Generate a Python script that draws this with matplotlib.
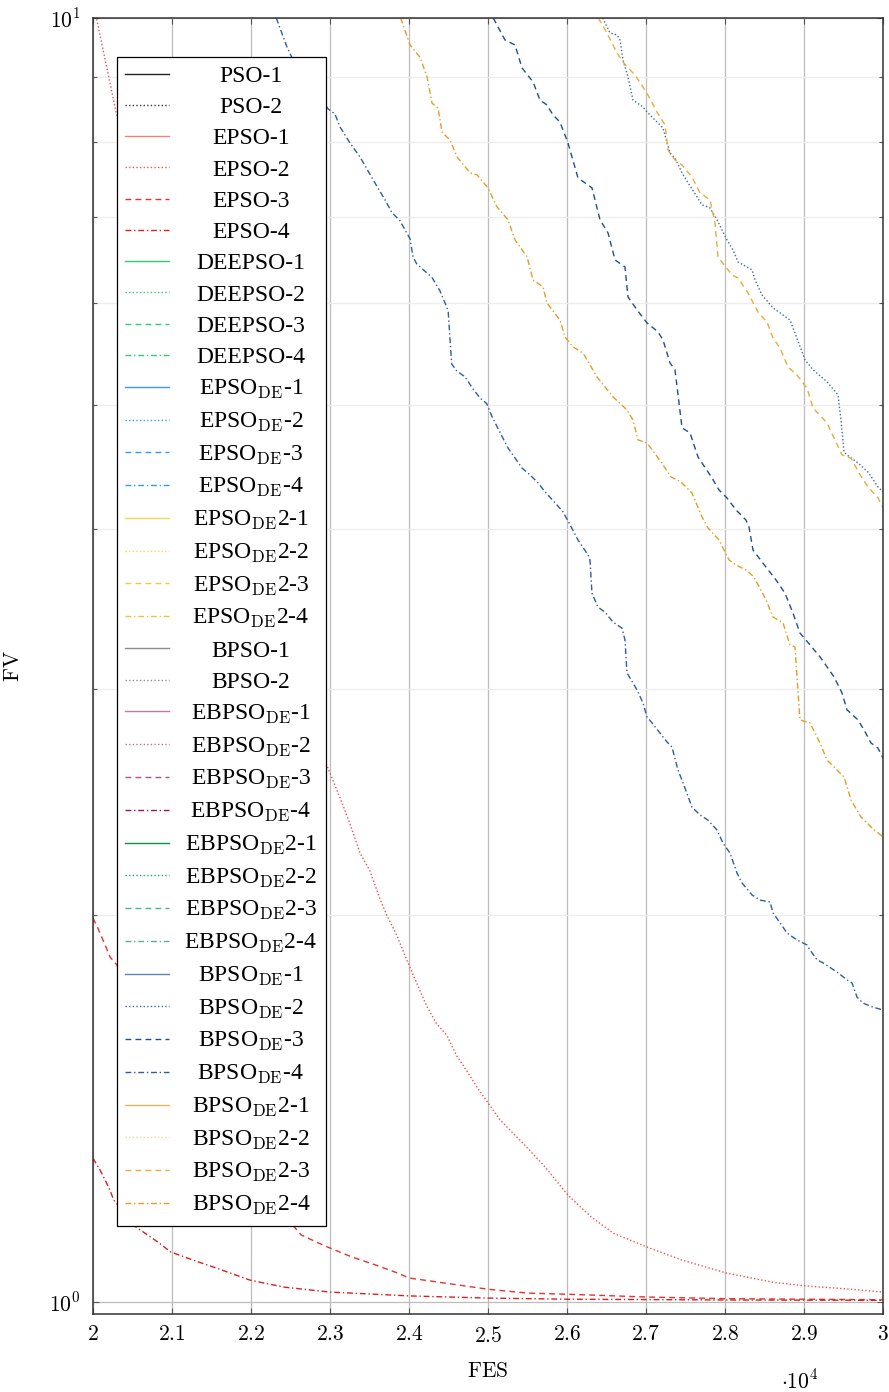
import math
import matplotlib
matplotlib.use("Agg")
import matplotlib.pyplot as plt
from matplotlib.ticker import FixedLocator, FuncFormatter, NullFormatter

plt.rcParams["mathtext.fontset"] = "cm"
plt.rcParams["font.family"] = ["Liberation Serif", "DejaVu Serif"]
plt.rcParams["lines.scale_dashes"] = False

# ---------------- data (FES, FV) ----------------
fes_epso_2 = [20000, 20300, 20500, 21000, 21500, 22000, 22500, 22978, 23127, 23253,
              23380, 23506, 23633, 23718, 23844, 23971, 24097, 24224, 24351, 24477,
              24604, 24730, 24857, 24984, 25152, 25439, 25728, 26013, 26304, 26590,
              27022, 27456, 28025, 28608, 29038, 29608, 30000]
fv_epso_2 = [10.3, 8.4, 7.4, 5.8, 4.6, 3.75, 3.1, 2.601, 2.47, 2.357,
             2.237, 2.166, 2.06, 2.001, 1.931, 1.847, 1.772, 1.70, 1.646, 1.614,
             1.555, 1.514, 1.471, 1.434, 1.386, 1.330, 1.273, 1.211, 1.165, 1.131,
             1.103, 1.078, 1.053, 1.036, 1.029, 1.023, 1.018]

fes_epso_3 = [20000, 20063, 20152, 20215, 20300, 20500, 21000, 21500, 22000, 22527,
              22633, 22848, 22994, 23278, 23570, 23861, 24000, 24430, 25008, 25506,
              26013, 27000, 28000, 29000, 30000]
fv_epso_3 = [1.99, 1.954, 1.898, 1.857, 1.831, 1.72, 1.50, 1.35, 1.23, 1.148,
             1.128, 1.112, 1.102, 1.084, 1.069, 1.053, 1.044, 1.035, 1.023, 1.016,
             1.014, 1.009, 1.006, 1.005, 1.004]

fes_epso_4 = [20000, 20089, 20152, 20215, 20261, 20544, 20835, 20981, 21266, 21557,
              21987, 22418, 22994, 24000, 25008, 26013, 28025, 30000]
fv_epso_4 = [1.294, 1.267, 1.245, 1.222, 1.201, 1.144, 1.112, 1.094, 1.078, 1.063,
             1.040, 1.027, 1.018, 1.011, 1.007, 1.005, 1.0036, 1.003]

fes_bpsode_2 = [26452, 26544, 26633, 26671, 26709, 26772, 26835, 26962, 27013, 27139,
                27215, 27304, 27367, 27456, 27532, 27646, 27709, 27810, 27899, 28025,
                28101, 28165, 28342, 28380, 28468, 28608, 28823, 29013, 29114, 29291,
                29430, 29468, 29506, 29544, 29684, 29810, 29937, 30000]
fv_bpsode_2 = [10.0, 9.735, 9.700, 9.614, 9.275, 8.997, 8.632, 8.525, 8.449, 8.298,
               8.210, 7.850, 7.780, 7.576, 7.441, 7.256, 7.153, 7.114, 6.963, 6.717,
               6.598, 6.457, 6.365, 6.252, 6.086, 5.946, 5.818, 5.417, 5.321, 5.208,
               5.088, 4.864, 4.592, 4.568, 4.502, 4.430, 4.313, 4.275]

fes_bpsode_3 = [25067, 25215, 25342, 25430, 25570, 25658, 25747, 25823, 25911, 26013,
                26139, 26316, 26418, 26519, 26608, 26734, 26772, 26886, 27013, 27152,
                27215, 27304, 27367, 27456, 27557, 27658, 27835, 27924, 28025, 28139,
                28266, 28304, 28354, 28481, 28646, 28759, 28861, 28949, 29076, 29203,
                29291, 29380, 29481, 29544, 29684, 29759, 29848, 29937, 30000]
fv_bpsode_3 = [10.0, 9.613, 9.528, 9.145, 8.917, 8.632, 8.555, 8.404, 8.298, 7.991,
               7.507, 7.374, 6.963, 6.802, 6.48, 6.399, 6.064, 5.925, 5.788, 5.696,
               5.614, 5.387, 5.321, 4.795, 4.752, 4.552, 4.383, 4.290, 4.229, 4.139,
               4.064, 4.014, 3.852, 3.762, 3.650, 3.565, 3.439, 3.319, 3.249, 3.180,
               3.124, 3.068, 2.981, 2.892, 2.840, 2.790, 2.725, 2.700, 2.652]

fes_bpsode_4 = [22320, 22452, 22515, 22978, 23063, 23127, 23253, 23380, 23481, 23591,
                23696, 23781, 23886, 23949, 24013, 24051, 24097, 24224, 24287, 24392,
                24477, 24497, 24540, 24604, 24709, 24810, 24899, 24984, 25047, 25127,
                25253, 25342, 25430, 25532, 25633, 25722, 25848, 25949, 26038, 26139,
                26266, 26291, 26316, 26392, 26481, 26582, 26696, 26734, 26759, 26835,
                26886, 26962, 27013, 27076, 27177, 27266, 27329, 27405, 27456, 27582,
                27684, 27785, 27899, 27975, 28063, 28152, 28215, 28342, 28443, 28570,
                28608, 28671, 28785, 28911, 29038, 29076, 29165, 29241, 29418, 29544,
                29608, 29671, 29747, 29873, 30000]
fv_bpsode_4 = [10.0, 9.504, 9.323, 8.493, 8.418, 8.225, 7.991, 7.795, 7.602, 7.40,
               7.218, 7.058, 6.951, 6.840, 6.731, 6.516, 6.435, 6.332, 6.286, 6.13,
               5.957, 5.899, 5.377, 5.311, 5.254, 5.142, 5.059, 5.008, 4.898, 4.789,
               4.625, 4.543, 4.462, 4.407, 4.345, 4.275, 4.192, 4.125, 4.03, 3.922,
               3.818, 3.784, 3.565, 3.477, 3.446, 3.385, 3.348, 3.278, 3.09, 3.035,
               2.997, 2.928, 2.855, 2.825, 2.774, 2.730, 2.705, 2.596, 2.549, 2.429,
               2.395, 2.373, 2.331, 2.277, 2.237, 2.158, 2.12, 2.075, 2.056, 2.049,
               2.009, 1.984, 1.938, 1.914, 1.897, 1.880, 1.847, 1.837, 1.807, 1.782,
               1.772, 1.728, 1.709, 1.697, 1.688]

fes_bpsode2_3 = [26396, 26506, 26582, 26633, 26709, 26772, 26861, 26962, 27025, 27139,
                 27241, 27278, 27367, 27456, 27582, 27684, 27810, 27873, 27911, 28089,
                 28165, 28291, 28418, 28532, 28608, 28696, 28797, 28911, 29038, 29114,
                 29291, 29392, 29481, 29595, 29696, 29810, 29937, 30000]
fv_bpsode2_3 = [10.0, 9.735, 9.528, 9.391, 9.241, 9.145, 9.028, 8.837, 8.710, 8.449,
                8.254, 7.892, 7.751, 7.682, 7.519, 7.309, 7.218, 6.925, 6.516, 6.307,
                6.274, 6.108, 5.902, 5.797, 5.633, 5.534, 5.348, 5.272, 5.149, 4.970,
                4.838, 4.692, 4.568, 4.543, 4.422, 4.313, 4.229, 4.154]

fes_bpsode2_4 = [23895, 24013, 24139, 24228, 24291, 24367, 24418, 24519, 24608, 24772,
                 24861, 25000, 25114, 25253, 25342, 25494, 25570, 25696, 25747, 25911,
                 25975, 26076, 26203, 26380, 26582, 26759, 26835, 26899, 27013, 27190,
                 27316, 27443, 27582, 27709, 27785, 27924, 28051, 28139, 28266, 28367,
                 28519, 28608, 28734, 28823, 28886, 28949, 29076, 29203, 29291, 29418,
                 29506, 29595, 29722, 29848, 30000]
fv_bpsode2_4 = [10.0, 9.528, 9.32, 9.0, 8.585, 8.51, 8.15, 8.035, 7.795, 7.576,
                7.548, 7.374, 7.127, 6.963, 6.717, 6.516, 6.252, 6.173, 5.998, 5.818,
                5.644, 5.544, 5.484, 5.253, 5.069, 4.952, 4.864, 4.692, 4.667, 4.511,
                4.391, 4.352, 4.266, 4.087, 4.007, 3.922, 3.784, 3.750, 3.716, 3.670,
                3.522, 3.416, 3.380, 3.249, 3.237, 2.840, 2.825, 2.725, 2.643, 2.596,
                2.564, 2.460, 2.386, 2.344, 2.302]

x_ticks = [20000, 21000, 22000, 23000, 24000, 25000, 26000, 27000, 28000, 29000, 30000]
y_major = [1, 10]
y_minor = [2, 3, 4, 5, 6, 7, 8, 9]

# ---------------- series definitions ----------------
SOLID = "-"
DOT = (0, (1.0, 1.6))
DASH = (0, (4.2, 3.0))
DASHDOT = (0, (4.2, 2.0, 1.0, 2.0))

DE = r"$_{\mathrm{DE}}$"
series = [
    ("PSO-1", "#222222", SOLID, None),
    ("PSO-2", "#333333", DOT, None),
    ("EPSO-1", "#f08080", SOLID, None),
    ("EPSO-2", "#f25050", DOT, (fes_epso_2, fv_epso_2)),
    ("EPSO-3", "#e83030", DASH, (fes_epso_3, fv_epso_3)),
    ("EPSO-4", "#d82020", DASHDOT, (fes_epso_4, fv_epso_4)),
    ("DEEPSO-1", "#2ecc71", SOLID, None),
    ("DEEPSO-2", "#2ecc71", DOT, None),
    ("DEEPSO-3", "#2ecc71", DASH, None),
    ("DEEPSO-4", "#2ecc71", DASHDOT, None),
    ("EPSO" + DE + "-1", "#3399ff", SOLID, None),
    ("EPSO" + DE + "-2", "#3399ff", DOT, None),
    ("EPSO" + DE + "-3", "#3399ff", DASH, None),
    ("EPSO" + DE + "-4", "#3399ff", DASHDOT, None),
    ("EPSO" + DE + "2-1", "#f2d45c", SOLID, None),
    ("EPSO" + DE + "2-2", "#f2d45c", DOT, None),
    ("EPSO" + DE + "2-3", "#eecb3a", DASH, None),
    ("EPSO" + DE + "2-4", "#eec530", DASHDOT, None),
    ("BPSO-1", "#8c8c8c", SOLID, None),
    ("BPSO-2", "#8c8c8c", DOT, None),
    ("EBPSO" + DE + "-1", "#c07aa0", SOLID, None),
    ("EBPSO" + DE + "-2", "#c8688f", DOT, None),
    ("EBPSO" + DE + "-3", "#b84c86", DASH, None),
    ("EBPSO" + DE + "-4", "#9c1458", DASHDOT, None),
    ("EBPSO" + DE + "2-1", "#0a9444", SOLID, None),
    ("EBPSO" + DE + "2-2", "#27a57a", DOT, None),
    ("EBPSO" + DE + "2-3", "#48b487", DASH, None),
    ("EBPSO" + DE + "2-4", "#55b58e", DASHDOT, None),
    ("BPSO" + DE + "-1", "#5f84b4", SOLID, None),
    ("BPSO" + DE + "-2", "#3d6aa6", DOT, (fes_bpsode_2, fv_bpsode_2)),
    ("BPSO" + DE + "-3", "#1f4f8f", DASH, (fes_bpsode_3, fv_bpsode_3)),
    ("BPSO" + DE + "-4", "#2c5f9e", DASHDOT, (fes_bpsode_4, fv_bpsode_4)),
    ("BPSO" + DE + "2-1", "#e2b65a", SOLID, None),
    ("BPSO" + DE + "2-2", "#f0d59c", DOT, None),
    ("BPSO" + DE + "2-3", "#e6ad3a", DASH, (fes_bpsode2_3, fv_bpsode2_3)),
    ("BPSO" + DE + "2-4", "#e0a024", DASHDOT, (fes_bpsode2_4, fv_bpsode2_4)),
]

fig = plt.figure(figsize=(8.89, 13.92), dpi=100)
ax = fig.add_axes([93 / 889, 78 / 1392, 790 / 889, 1296 / 1392])

for label, color, ls, data in series:
    xs, ys = data if data is not None else ([], [])
    ax.plot(xs, ys, color=color, linestyle=ls, linewidth=1.0, label=label)

ax.set_yscale("log")
ax.set_xlim(20000, 30000)
ax.set_ylim(0.9787, 10)

ax.xaxis.set_major_locator(FixedLocator(x_ticks))
ax.xaxis.set_major_formatter(FuncFormatter(lambda v, p: r"$%g$" % (v / 1e4)))
ax.yaxis.set_major_locator(FixedLocator(y_major))
ax.yaxis.set_major_formatter(FuncFormatter(lambda v, p: r"$10^{%d}$" % round(math.log10(v))))
ax.yaxis.set_minor_locator(FixedLocator(y_minor))
ax.yaxis.set_minor_formatter(NullFormatter())

ax.grid(True, which="major", axis="x", color="#bcbcbc", linewidth=0.9)
ax.grid(True, which="major", axis="y", color="#bcbcbc", linewidth=0.9)
ax.grid(True, which="minor", axis="y", color="#ededed", linewidth=0.9)
ax.set_axisbelow(True)

ax.tick_params(which="both", direction="in", top=True, right=True, colors="#555555",
               labelcolor="black", labelsize=15.5)
ax.tick_params(which="major", length=4, width=0.8, pad=9)
ax.tick_params(which="minor", length=3, width=0.8)
for sp in ax.spines.values():
    sp.set_linewidth(1.1)
    sp.set_color("#333333")

ax.set_xlabel(r"$\mathrm{FES}$", fontsize=15.5, labelpad=12)
ax.set_ylabel(r"$\mathrm{FV}$", fontsize=15.5, labelpad=18)
ax.text(0.895, -0.052, r"$\cdot 10^{4}$", transform=ax.transAxes, fontsize=15.5,
        ha="center", va="center")

leg = ax.legend(loc="upper left", bbox_to_anchor=(24 / 790, 1257 / 1296),
                borderaxespad=0, fancybox=False, edgecolor="black", framealpha=1,
                fontsize=17, handlelength=1.85, handletextpad=0.65,
                borderpad=0.35, labelspacing=0.413)
leg.get_frame().set_linewidth(0.9)

# centre each legend label within the text column
fig.canvas.draw()
renderer = fig.canvas.get_renderer()
texts = leg.get_texts()
widths = [t.get_window_extent(renderer).width for t in texts]
wmax = max(widths)
for t, w in zip(texts, widths):
    t.set_position(((wmax - w) / 2, 0))

fig.savefig("out.png", dpi=100)
